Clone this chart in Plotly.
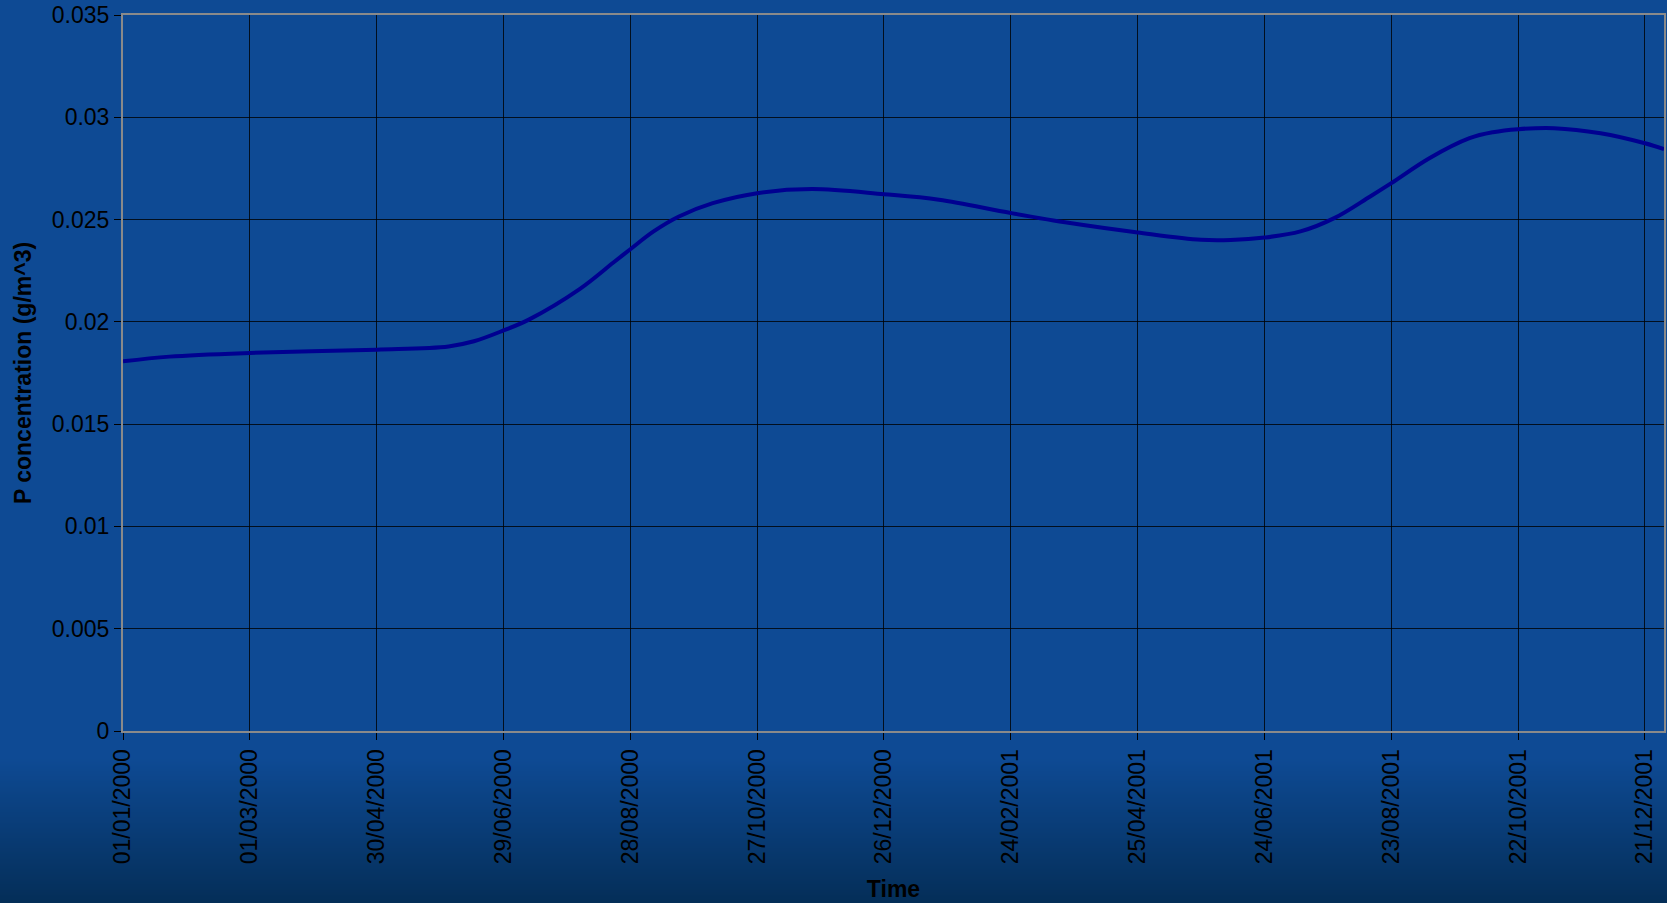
import base64
import struct
import zlib

import plotly.graph_objects as go

# Phosphorus concentration over time
dates = [
    "2000-01-01", "2000-01-23", "2000-03-01", "2000-04-30", "2000-06-03",
    "2000-06-15", "2000-06-29", "2000-07-11", "2000-08-04", "2000-08-20",
    "2000-08-28", "2000-09-08", "2000-09-20", "2000-10-06", "2000-10-27",
    "2000-11-22", "2000-12-26", "2001-01-21", "2001-02-24", "2001-03-24",
    "2001-04-25", "2001-05-25", "2001-06-08", "2001-06-24", "2001-07-11",
    "2001-07-27", "2001-08-13", "2001-08-23", "2001-09-10", "2001-09-29",
    "2001-10-10", "2001-10-22", "2001-11-08", "2001-11-30", "2001-12-21",
    "2001-12-30",
]
p_conc = [
    0.01807, 0.01830, 0.01848, 0.01864, 0.01880,
    0.01905, 0.01958, 0.02011, 0.02160, 0.02290,
    0.02355, 0.02442, 0.02515, 0.02580, 0.02629,
    0.02649, 0.02624, 0.02597, 0.02532, 0.02483,
    0.02437, 0.02401, 0.02400, 0.02412, 0.02442,
    0.02507, 0.02613, 0.02678, 0.02800, 0.02898,
    0.02927, 0.02942, 0.02947, 0.02922, 0.02873,
    0.02844,
]

x_tick_dates = [
    "2000-01-01", "2000-03-01", "2000-04-30", "2000-06-29", "2000-08-28",
    "2000-10-27", "2000-12-26", "2001-02-24", "2001-04-25", "2001-06-24",
    "2001-08-23", "2001-10-22", "2001-12-21",
]
x_tick_labels = [
    "01/01/2000", "01/03/2000", "30/04/2000", "29/06/2000", "28/08/2000",
    "27/10/2000", "26/12/2000", "24/02/2001", "25/04/2001", "24/06/2001",
    "23/08/2001", "22/10/2001", "21/12/2001",
]
y_tick_vals = [0, 0.005, 0.01, 0.015, 0.02, 0.025, 0.03, 0.035]
y_tick_labels = ["0", "0.005", "0.01", "0.015", "0.02", "0.025", "0.03", "0.035"]

W, H = 1667, 903
ML, MR, MT, MB = 123, 3, 15, 172


def gradient_png(height, top_rgb, bottom_rgb, start_frac):
    """Small vertical-gradient PNG used as the slide backdrop."""
    width = 4
    raw = bytearray()
    for r in range(height):
        f = r / (height - 1)
        if f <= start_frac:
            t = 0.0
        else:
            t = (f - start_frac) / (1 - start_frac)
        rgb = bytes(int(round(a + (b - a) * t)) for a, b in zip(top_rgb, bottom_rgb))
        raw += b"\x00" + rgb * width

    def chunk(tag, data):
        c = struct.pack(">I", len(data)) + tag + data
        return c + struct.pack(">I", zlib.crc32(tag + data) & 0xFFFFFFFF)

    png = b"\x89PNG\r\n\x1a\n"
    png += chunk(b"IHDR", struct.pack(">IIBBBBB", width, height, 8, 2, 0, 0, 0))
    png += chunk(b"IDAT", zlib.compress(bytes(raw), 9))
    png += chunk(b"IEND", b"")
    return "data:image/png;base64," + base64.b64encode(png).decode()


bg = gradient_png(H, (14, 74, 148), (4, 46, 88), 0.84)

fig = go.Figure()
fig.add_trace(
    go.Scatter(
        x=dates,
        y=p_conc,
        mode="lines",
        line=dict(color="#000090", width=4, shape="spline", smoothing=1.0),
        showlegend=False,
        hoverinfo="x+y",
    )
)

pw = W - ML - MR
ph = H - MT - MB
fig.add_layout_image(
    dict(
        source=bg,
        xref="paper", yref="paper",
        x=-ML / pw, y=1 + MT / ph,
        sizex=W / pw, sizey=H / ph,
        xanchor="left", yanchor="top",
        sizing="stretch",
        layer="below",
    )
)

tick_font = dict(family="Liberation Sans, Arial, sans-serif", size=23, color="black")
title_font = dict(family="Liberation Sans, Arial, sans-serif", size=23, color="black",
                  weight="bold")

fig.update_layout(
    width=W,
    height=H,
    margin=dict(l=ML, r=MR, t=MT, b=MB, pad=0),
    paper_bgcolor="#0e4a94",
    plot_bgcolor="rgba(0,0,0,0)",
    xaxis=dict(
        type="date",
        range=["2000-01-01", "2001-12-30"],
        tickmode="array",
        tickvals=x_tick_dates,
        ticktext=x_tick_labels,
        tickangle=-90,
        tickfont=tick_font,
        ticks="outside",
        ticklen=7,
        tickcolor="black",
        tickwidth=1,
        showgrid=True,
        gridcolor="rgba(0,0,0,0.8)",
        gridwidth=1,
        showline=True,
        linecolor="#8a8a8a",
        linewidth=2,
        mirror=True,
        zeroline=False,
        title=dict(text="Time", font=title_font, standoff=18),
        automargin=False,
    ),
    yaxis=dict(
        range=[0, 0.035],
        tickmode="array",
        tickvals=y_tick_vals,
        ticktext=y_tick_labels,
        tickfont=tick_font,
        ticks="outside",
        ticklen=7,
        tickcolor="black",
        tickwidth=1,
        showgrid=True,
        gridcolor="rgba(0,0,0,0.8)",
        gridwidth=1,
        showline=True,
        linecolor="#8a8a8a",
        linewidth=2,
        mirror=True,
        zeroline=False,
        title=dict(text="P concentration (g/m^3)", font=title_font, standoff=14),
        automargin=False,
    ),
)

fig.write_html("out.html")
